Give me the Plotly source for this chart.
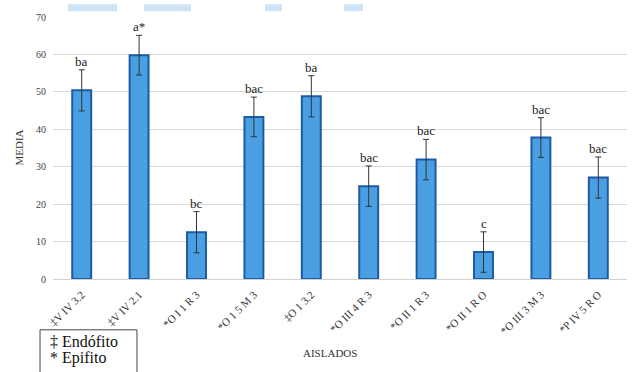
import plotly.graph_objects as go

categories = ["‡V IV 3.2", "‡V IV 2.1", "*O I 1 R 3", "*O 1 5 M 3", "‡O 1 3.2",
              "*O III 4 R 3", "*O II 1 R 3", "*O II 1 R O", "*O III 3 M 3", "*P IV 5 R O"]
means = [50.4, 59.8, 12.5, 43.3, 48.8, 24.8, 31.9, 7.2, 37.8, 27.1]
errors = [5.5, 5.3, 5.5, 5.3, 5.5, 5.4, 5.4, 5.4, 5.3, 5.5]
letters = ["ba", "a*", "bc", "bac", "ba", "bac", "bac", "c", "bac", "bac"]
y_ticks = [0, 10, 20, 30, 40, 50, 60, 70]

SERIF = "'Liberation Serif', 'Times New Roman', 'DejaVu Serif', serif"

fig = go.Figure()
fig.add_trace(go.Bar(
    x=categories, y=means,
    marker=dict(color="#4A9FE3", line=dict(color="#1D5BA3", width=2)),
    error_y=dict(type="data", array=errors, visible=True, color="#333333",
                 thickness=1, width=3),
    showlegend=False,
))

for c, m, e, l in zip(categories, means, errors, letters):
    fig.add_annotation(x=c, y=m + e, text=l, showarrow=False, yanchor="bottom",
                       yshift=-1, font=dict(family=SERIF, size=13, color="#222222"))

fig.add_annotation(xref="paper", yref="paper", x=0.483, y=-0.284, text="AISLADOS",
                   xanchor="center", yanchor="middle", showarrow=False,
                   font=dict(family=SERIF, size=11, color="#333333"))
fig.add_annotation(xref="paper", yref="paper", x=-0.06, y=0.5, text="MEDIA",
                   xanchor="center", yanchor="middle",
                   textangle=-90, showarrow=False,
                   font=dict(family=SERIF, size=11, color="#333333"))

# legend box
fig.add_shape(type="rect", xref="paper", yref="paper", x0=-0.0226, x1=0.1463,
              y0=-0.36, y1=-0.194, line=dict(color="#444444", width=1),
              fillcolor="white")
fig.add_annotation(xref="paper", yref="paper", x=-0.009, y=-0.240, text="‡ Endófito",
                   xanchor="left", yanchor="middle", showarrow=False,
                   font=dict(family=SERIF, size=16, color="#111111"))
fig.add_annotation(xref="paper", yref="paper", x=-0.009, y=-0.302, text="* Epifito",
                   xanchor="left", yanchor="middle", showarrow=False,
                   font=dict(family=SERIF, size=16, color="#111111"))

# remnants of highlighted caption text at the very top
for x0, x1 in [(68, 117), (144, 191), (265, 282), (344, 363)]:
    fig.add_shape(type="rect", xref="paper", yref="paper",
                  x0=(x0 - 53) / 574, x1=(x1 - 53) / 574,
                  y0=(279 - 5) / 268, y1=(279 + 2) / 268,
                  line=dict(width=0), fillcolor="#CFE3F7", layer="below")

fig.update_layout(
    width=639, height=372,
    margin=dict(l=53, r=12, t=11, b=93),
    paper_bgcolor="white", plot_bgcolor="white",
    font=dict(family=SERIF),
    bargap=0.67,
    xaxis=dict(tickangle=-45, tickfont=dict(family=SERIF, size=11, color="#333333"),
               showline=True, linecolor="#d0d0d0", ticks="", ticklabelstandoff=4),
    yaxis=dict(range=[0, 70], tickvals=y_ticks, showgrid=True, gridcolor="#d9d9d9",
               gridwidth=1, zeroline=False, ticks="", ticklen=0,
               ticklabelstandoff=6,
               tickfont=dict(family=SERIF, size=10, color="#404040")),
)

fig.write_html("out.html")
